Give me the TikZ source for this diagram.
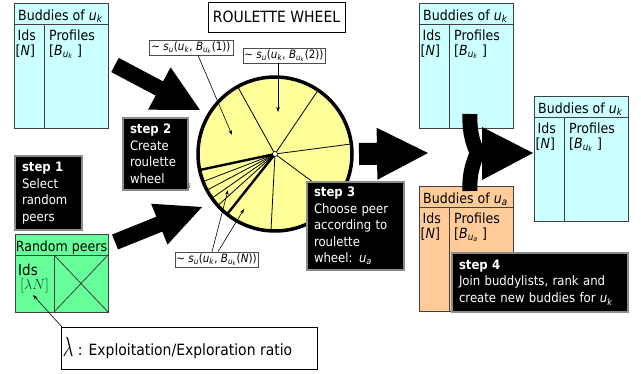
\documentclass[tikz,border=0pt]{standalone}
\usepackage{fontspec}
\usepackage{graphicx}
\setmainfont{DejaVu Sans}[FakeStretch=0.9, ItalicFont={DejaVu Sans Oblique}, BoldFont={DejaVu Sans Bold}, BoldItalicFont={DejaVu Sans Bold Oblique}]
\usetikzlibrary{arrows.meta,calc}
\definecolor{cyanbox}{RGB}{204,255,255}
\definecolor{orangebox}{RGB}{255,204,153}
\definecolor{greenbox}{RGB}{102,255,153}
\definecolor{wheelyellow}{RGB}{255,255,153}
\definecolor{lamgreen}{RGB}{0,70,45}
\newcommand{\myuk}{\textit{u}\textsubscript{\textit{k}}}
\newcommand{\myua}{\textit{u}\textsubscript{\textit{a}}}
\newcommand{\myB}[1]{\textit{B}\textsubscript{\textit{u}\textsubscript{\textit{#1}}}}
\newcommand{\myslab}[1]{∼ \textit{s}\textsubscript{\textit{u}}(\myuk, \myB{k}(#1))}
\tikzset{
  tablebox/.style={draw=black!75, line width=0.8pt, minimum width=94pt, minimum height=125pt, inner sep=0pt, outer sep=0pt},
  tableline/.style={draw=black!75, line width=0.8pt},
  tabtext/.style={inner sep=0pt, font=\fontsize{14}{16}\selectfont},
  stepbox/.style={fill=black, draw=black!45, line width=1.3pt, text=white, align=left, inner xsep=7pt, inner ysep=2pt, font=\fontsize{13}{16.5}\selectfont, anchor=north west, outer sep=0pt},
  slabel/.style={draw=black!70, fill=white, line width=0.6pt, inner sep=1pt, minimum height=15pt, font=\fontsize{11.5}{12}\selectfont},
  thinarrow/.style={-{Stealth[length=5pt,width=3.5pt]}, line width=0.6pt},
  spoke/.style={line width=0.8pt},
  thickspoke/.style={line width=2.4pt},
}
\newcommand\buddytable[5]{% name, pos, fill, header, profile
  \node[tablebox, fill=#3, anchor=north west] (#1) at (#2) {};
  \draw[tableline] ($(#1.north west)+(0,21)$) -- ($(#1.north east)+(0,21)$);
  \draw[tableline] ($(#1.north west)+(30,21)$) -- ($(#1.south west)+(30,0)$);
  \node[tabtext, anchor=base west] (#1-h) at ($(#1.north west)+(4,17.5)$) {#4};
  \node[tabtext, anchor=base west] (#1-i) at ($(#1.north west)+(3.5,37)$) {Ids};
  \node[tabtext, anchor=base west] (#1-n) at ($(#1.north west)+(1.5,52)$) {[\textit{N}]};
  \node[tabtext, anchor=base west] (#1-p) at ($(#1.north west)+(35,37)$) {Profiles};
  \node[tabtext, anchor=base west] (#1-b) at ($(#1.north west)+(35,52)$) {[#5 ]};
}
\newcommand\fatarrow[5]{% tail, tip, half shaft, half head, head length
  \coordinate (fab) at ($(#2)!#5!(#1)$);
  \fill ($(#1)!#3!90:(#2)$) -- ($(fab)!#3!-90:(#1)$) -- ($(fab)!#4!-90:(#1)$) -- (#2)
     -- ($(fab)!#4!90:(#1)$) -- ($(fab)!#3!90:(#1)$) -- ($(#1)!#3!-90:(#2)$) -- cycle;}
\begin{document}
\begin{tikzpicture}[x=1pt,y=-1pt]
\useasboundingbox (0,0) rectangle (641,373);
\fill[white] (0,0) rectangle (641,373);

% tables
\buddytable{tl}{14,3}{cyanbox}{Buddies of \myuk}{\myB{k}}
\buddytable{tr}{419,3}{cyanbox}{Buddies of \myuk}{\myB{k}}
\buddytable{fin}{534,96}{cyanbox}{Buddies of \myuk}{\myB{k}}
\buddytable{ora}{419,186}{orangebox}{Buddies of \myua}{\myB{a}}

% random peers
\node[tablebox, fill=greenbox, minimum width=93pt, minimum height=78pt, anchor=north west] (rp) at (15,234) {};
\draw[tableline] ($(rp.north west)+(0,21)$) -- ($(rp.north east)+(0,21)$);
\draw[tableline] ($(rp.north west)+(39,21)$) -- ($(rp.south west)+(39,0)$);
\draw[tableline] ($(rp.north west)+(39,21)$) -- (rp.south east);
\draw[tableline] ($(rp.north east)+(0,21)$) -- ($(rp.south west)+(39,0)$);
\node[tabtext, anchor=base] (rp-h) at ($(rp.north)+(0,17.5)$) {Random peers};
\node[inner sep=0pt, font=\fontsize{15}{16}\selectfont, anchor=base west] (rp-i) at ($(rp.north west)+(3,41)$) {Ids};
\node[inner sep=0pt, font=\fontsize{13.5}{14}\selectfont, text=lamgreen, anchor=base west] (rp-l) at ($(rp.north west)+(5,55)$) {$[\lambda N]$};

% big arrows
\coordinate (a1t) at (115,65);  \coordinate (a1h) at (200,110);
\coordinate (a2t) at (115,242); \coordinate (a2h) at (202,207);
\coordinate (a3t) at (359,154); \coordinate (a3h) at (428,153);
\fatarrow{a1t}{a1h}{8pt}{24pt}{46pt}
\fatarrow{a2t}{a2h}{8pt}{22pt}{46pt}
\fatarrow{a3t}{a3h}{11pt}{26pt}{51pt}

% roulette title
\node[draw, line width=0.8pt, minimum width=137pt, minimum height=30pt, inner sep=0pt, font=\fontsize{15.5}{16}\selectfont] (title) at (276.5,17) {ROULETTE WHEEL};

% wheel
\node[circle, draw, line width=3.5pt, fill=wheelyellow, minimum size=154pt, inner sep=0pt] (wheel) at (275,154) {};
\foreach \a in {-119,-56,-7.5,-201,-208,-215,-222,-267,-323.5}
  \draw[spoke] (wheel.center) -- ++(\a:75.5);
\foreach \a in {-192,-231.5}
  \draw[thickspoke] (wheel.center) -- ++(\a:75.5);
\node[circle, draw, fill=white, inner sep=0pt, minimum size=5pt, line width=0.6pt] (hub) at (wheel.center) {};

% similarity labels
\node[slabel, minimum width=84pt] (L1) at (191,47.5) {\myslab{1}};
\node[slabel, minimum width=82pt] (L2) at (284,55.5) {\myslab{2}};
\node[slabel, minimum width=83pt] (LN) at (216.5,259.5) {\myslab{\textit{N}}};
\coordinate (t1) at (232,135);
\coordinate (t2) at (278,112);
\coordinate (tn1) at (228,190);
\coordinate (tn2) at (244,209);
\draw[thinarrow] ($(L1.south)+(7,0)$) -- (t1);
\draw[thinarrow] ($(L2.south)+(-6,0)$) -- (t2);
\draw[thinarrow] ($(LN.north)+(-4.5,0)$) -- (tn1);
\draw[thinarrow] ($(LN.north)+(1.5,0)$) -- (tn2);

% steps
\node[stepbox, text width=53pt, minimum height=74pt] (s1) at (15,156) {\textbf{step 1}\\Select\\random\\peers};
\node[stepbox, text width=51pt, minimum height=72pt] (s2) at (123,118) {\textbf{step 2}\\Create\\roulette\\wheel};
\node[inner sep=0pt, font=\fontsize{8}{8}\selectfont\itshape, text=black!70] (s2s) at (189,186) {s};
\node[stepbox, text width=83pt, minimum height=88pt] (s3) at (307,182) {\textbf{step 3}\\Choose peer\\according to\\roulette\\wheel: \myua};

% brace arrow
\draw[line width=15pt] (470,114) .. controls (469,136) and (475,146) .. (477,153) .. controls (475,160) and (469,170) .. (470,191);
\coordinate (b1) at (482,127); \coordinate (b2) at (533,153); \coordinate (b3) at (482,180);
\fill (b1) -- (b2) -- (b3) -- cycle;

\node[stepbox, text width=162pt, minimum height=59pt] (s4) at (452,253) {\textbf{step 4}\\Join buddylists, rank and\\create new buddies for \myuk};

% lambda legend
\node[draw, line width=0.8pt, minimum width=256pt, minimum height=42pt, inner sep=0pt, anchor=north west] (lam) at (61,327) {};
\node[inner sep=0pt, anchor=west, font=\fontsize{15.5}{16}\selectfont] (lamtext) at ($(lam.west)+(1.5,0)$) {\raisebox{-1pt}{\scalebox{1.1}[1.6]{\fontsize{19}{19}\selectfont$\lambda$}} : Exploitation/Exploration ratio};
\coordinate (lamtip) at (33,295);
\draw[thinarrow] ($(lam.north west)+(1,0)$) -- (lamtip);
\end{tikzpicture}
\end{document}
